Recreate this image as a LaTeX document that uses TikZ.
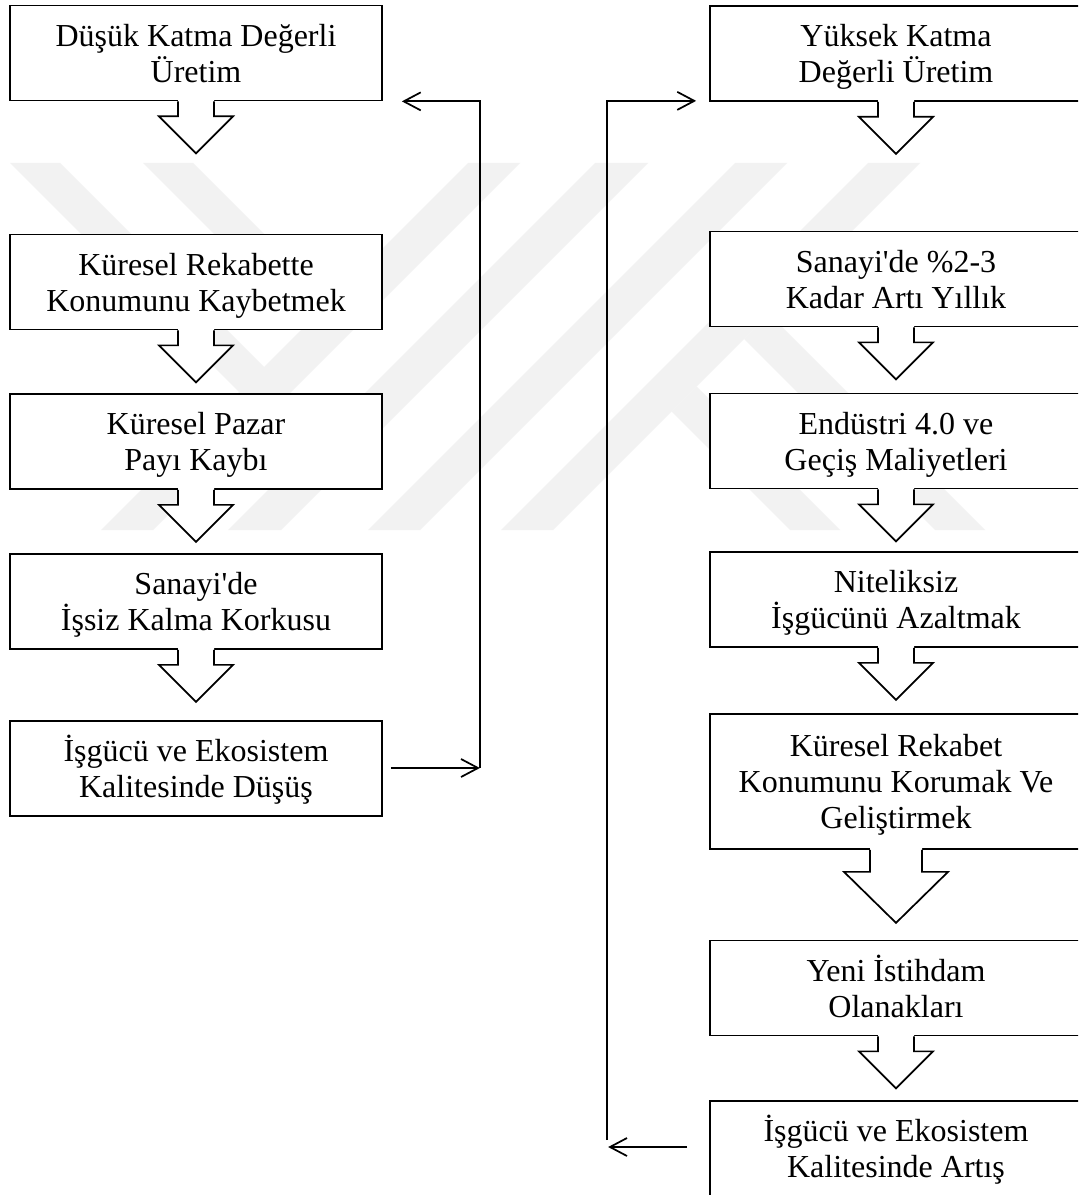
\documentclass[tikz,border=0pt]{standalone}
\usepackage{fontspec}
\setmainfont{Liberation Serif}[Ligatures=TeXOff]
\usetikzlibrary{arrows.meta,calc}

\definecolor{wmgray}{gray}{0.95}

% strut that fixes the first-line height and last-line depth of every box
\newcommand{\boxstrut}{\rule[-4.9pt]{0pt}{27pt}}

% downward block arrow hanging below a box
% #1 box, #2 stem half width, #3 head half width, #4 stem length, #5 head length
\newcommand{\downblock}[5]{%
  \fill[white] ($(#1.south)+(-#2,-2)$) -- ($(#1.south)+(-#2,#4)$) -- ($(#1.south)+(-#3,#4)$)
    -- ($(#1.south)+(0,#4+#5)$) -- ($(#1.south)+(#3,#4)$) -- ($(#1.south)+(#2,#4)$)
    -- ($(#1.south)+(#2,-2)$) -- cycle;
  \draw[flow] ($(#1.south)+(-#2,0)$) -- ($(#1.south)+(-#2,#4)$) -- ($(#1.south)+(-#3,#4)$)
    -- ($(#1.south)+(0,#4+#5)$) -- ($(#1.south)+(#3,#4)$) -- ($(#1.south)+(#2,#4)$)
    -- ($(#1.south)+(#2,0)$);
}

\tikzset{
  stage/.style={draw, line width=1.3pt, fill=white, minimum width=279pt,
    minimum height=71.25pt, inner sep=0pt, align=center,
    font={\fontsize{24}{27}\selectfont\lineskiplimit=-20pt}},
  tallstage/.style={stage, minimum height=101.25pt},
  flow/.style={line width=1.3pt, line join=miter},
  link/.style={line width=1.3pt,
    -{Straight Barb[length=12.75pt,width=13.5pt,line width=1.3pt]}},
  band/.style={fill=wmgray, draw=none},
}

\begin{document}
\begin{tikzpicture}[x=0.75pt,y=-0.75pt]
  \useasboundingbox (0,0) rectangle (1078,1195);
  \clip (0,0) rectangle (1078,1195);
  \fill[white] (0,0) rectangle (1078,1195);

  % light striped emblem in the background
  \fill[band] (10,163) -- (60,163) -- (264,367) -- (265,418) -- cycle;
  \fill[band] (143,163) -- (193,163) -- (330,300) -- (331,351) -- cycle;
  \fill[band] (468,163) -- (520,163) -- (153,530) -- (101,530) -- cycle;
  \fill[band] (595,163) -- (648,163) -- (281,530) -- (228,530) -- cycle;
  \fill[band] (735,163) -- (787,163) -- (420,530) -- (368,530) -- cycle;
  \fill[band] (868,163) -- (920,163) -- (553,530) -- (501,530) -- cycle;
  \fill[band] (744,339) -- (769,314) -- (985,530) -- (935,530) -- cycle;
  \fill[band] (671.5,411.5) -- (696.5,386.5) -- (840,530) -- (790,530) -- cycle;

  % left column: low value-added chain
  \node[stage] (l1) at (196,53)    {\boxstrut Düşük Katma Değerli\\\boxstrut Üretim};
  \node[stage] (l2) at (196,282)   {\boxstrut Küresel Rekabette\\\boxstrut Konumunu Kaybetmek};
  \node[stage] (l3) at (196,441.5) {\boxstrut Küresel Pazar\\\boxstrut Payı Kaybı};
  \node[stage] (l4) at (196,601.5) {\boxstrut Sanayi'de\\\boxstrut İşsiz Kalma Korkusu};
  \node[stage] (l5) at (196,768.5) {\boxstrut İşgücü ve Ekosistem\\\boxstrut Kalitesinde Düşüş};

  % right column: high value-added chain
  \node[stage] (r1) at (896,53.5)  {\boxstrut Yüksek Katma\\\boxstrut Değerli Üretim};
  \node[stage] (r2) at (896,279)   {\boxstrut Sanayi'de \%2-3\\\boxstrut Kadar Artı Yıllık};
  \node[stage] (r3) at (896,441)   {\boxstrut Endüstri 4.0 ve\\\boxstrut Geçiş Maliyetleri};
  \node[stage] (r4) at (896,599.5) {\boxstrut Niteliksiz\\\boxstrut İşgücünü Azaltmak};
  \node[tallstage] (r5) at (896,781.5) {\boxstrut Küresel Rekabet\\\boxstrut Konumunu Korumak Ve\\\boxstrut Geliştirmek};
  \node[stage] (r6) at (896,988)   {\boxstrut Yeni İstihdam\\\boxstrut Olanakları};
  \node[stage] (r7) at (896,1148.5) {\boxstrut İşgücü ve Ekosistem\\\boxstrut Kalitesinde Artış};

  % block arrows between consecutive boxes
  \downblock{l1}{18}{37}{15}{37}
  \downblock{l2}{18}{37}{15}{37}
  \downblock{l3}{18}{37}{15}{37}
  \downblock{l4}{18}{37}{15}{37}
  \downblock{r1}{18}{37}{15}{37}
  \downblock{r2}{18}{37}{15}{37}
  \downblock{r3}{18}{37}{15}{37}
  \downblock{r4}{18}{37}{15}{37}
  \downblock{r5}{26}{52}{22}{51}
  \downblock{r6}{18}{37}{15}{37}

  % feedback loop of the left chain
  \coordinate (lturn) at ($(l5.east)+(97,-0.5)$);
  \draw[link] ($(l5.east)+(8,-0.5)$) -- (lturn);
  \draw[link] (lturn) -- (lturn |- l1.south) -- ($(l1.south east)+(19,0)$);

  % feedback loop of the right chain
  \coordinate (rturn) at ($(r7.west)+(-102,-8.5)$);
  \draw[link] ($(r7.west)+(-22,-1.5)$) -- ($(r7.west)+(-101,-1.5)$);
  \draw[link] (rturn) -- ($(rturn |- r1.south)+(0,-1)$) -- ($(r1.south west)+(-13,-1)$);
\end{tikzpicture}
\end{document}
